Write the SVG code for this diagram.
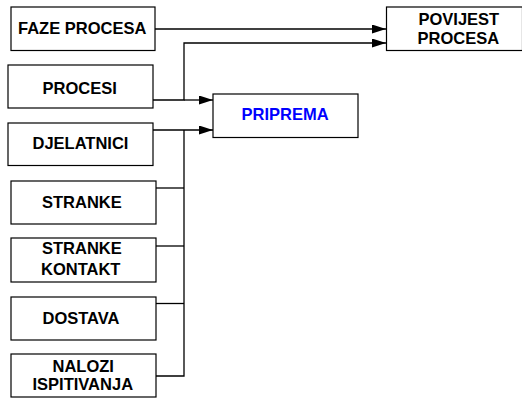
<svg xmlns="http://www.w3.org/2000/svg" width="522" height="398" viewBox="0 0 522 398">
<style>
rect{fill:#fff;stroke:#000;stroke-width:1.2}
text{font-family:"Liberation Sans",Arial,sans-serif;font-weight:bold;font-size:16.5px;fill:#000}
.c{fill:none;stroke:#000;stroke-width:1.3}
</style>
<defs>
<marker id="a" markerWidth="14" markerHeight="9" refX="14" refY="4.5" orient="auto" markerUnits="userSpaceOnUse">
<path d="M0,0L14,4.5L0,9z" fill="#000"/>
</marker>
</defs>
<g id="faze"><rect x="11" y="7" width="144" height="43.5"/><text x="18" y="34">FAZE PROCESA</text></g>
<g id="procesi"><rect x="8" y="65" width="145" height="43"/><text x="42.5" y="93.5">PROCESI</text></g>
<g id="djelatnici"><rect x="8" y="123" width="145" height="42.5"/><text x="32.5" y="149">DJELATNICI</text></g>
<g id="stranke"><rect x="11" y="181" width="145" height="43"/><text x="42" y="207.5">STRANKE</text></g>
<g id="stranke-kontakt"><rect x="11" y="238" width="145" height="44"/><text x="42" y="253.5">STRANKE</text><text x="41" y="275">KONTAKT</text></g>
<g id="dostava"><rect x="11" y="297" width="145" height="43"/><text x="42.5" y="323.5">DOSTAVA</text></g>
<g id="nalozi"><rect x="11" y="354" width="145" height="43"/><text x="52.5" y="371.5">NALOZI</text><text x="32.5" y="390">ISPITIVANJA</text></g>
<g id="priprema"><rect x="213" y="94" width="145" height="43.5"/><text x="241.5" y="120" style="fill:#0000ff">PRIPREMA</text></g>
<g id="povijest"><rect x="386.5" y="7" width="136" height="43.5"/><text x="418.5" y="25">POVIJEST</text><text x="417.5" y="43.5">PROCESA</text></g>
<g id="connectors">
<path class="c" d="M155,29H386" marker-end="url(#a)"/>
<path class="c" d="M153,100H184V43H386" marker-end="url(#a)"/>
<path class="c" d="M184,100H213" marker-end="url(#a)"/>
<path class="c" d="M153,130H213" marker-end="url(#a)"/>
<path class="c" d="M184,130V376H156"/>
<path class="c" d="M156,188H184"/>
<path class="c" d="M156,246H184"/>
<path class="c" d="M156,303.5H184"/>
</g>
</svg>
